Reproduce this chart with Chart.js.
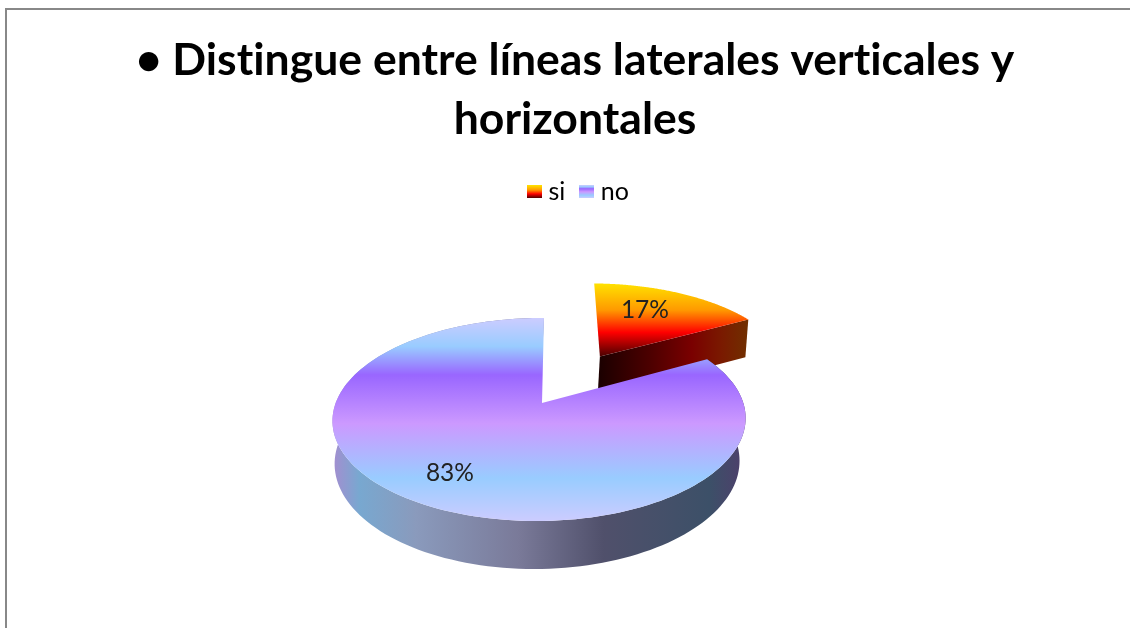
<!DOCTYPE html>
<html>
<head>
<meta charset="utf-8">
<script src="https://cdn.jsdelivr.net/npm/chart.js@4"></script>
<style>
  html, body { margin: 0; padding: 0; background: #fff; overflow: hidden; }
  #frame { position: absolute; left: 5px; top: 8px; width: 2000px; height: 2000px; border: 2px solid #888; }
  #chart { position: absolute; left: 0; top: 0; }
</style>
</head>
<body>
<div id="frame"></div>
<canvas id="chart" width="1130" height="628"></canvas>
<script>
const titleLines = ['• Distingue entre líneas laterales verticales y', 'horizontales'];
const categories = ['si', 'no'];
const values = [17, 83];

// how far each slice is pulled out, as a fraction of the radius
const explode = [0.595, 0];
// label spot inside each slice: fraction of radius, degrees clockwise from top
const labelSpot = [[0.675, 25], [0.747, 212]];

// perspective of the tilted pie
const top3d = { x: 542, y: 403, a: 203.8, b: 98.8 };
const bottom3d = { x: 541, y: 445, b: 103.8 };
const bottomWidth = [0.995, 0.98];
const tilt = 0.1626;
const sideTilt = -0.0123;
const shear = -0.0235;

const faceStops = [
  [[0, '#ffe600'], [0.38, '#ff9900'], [0.68, '#ff0000'], [1, '#4d0000']],
  [[0, '#ccccff'], [0.14, '#99ccff'], [0.28, '#9966ff'], [0.52, '#cc99ff'], [0.79, '#99ccff'], [1, '#ccccff']]
];
const wallStops = [
  [[0, '#1a0000'], [0.35, '#4d0000'], [0.62, '#7a0000'], [0.82, '#7a1a00'], [1, '#703000']],
  [[0, '#a090d0'], [0.06, '#78a8d0'], [0.2, '#8a9abc'], [0.45, '#7a7a99'], [0.66, '#50506b'], [0.92, '#3c5068'], [1, '#4d406b']]
];
const faceBox = [[282, 356], [318, 521]];
const wallBox = [[598, 749], [335, 742]];

function makeGrad(ctx, x0, y0, x1, y1, stops) {
  const g = ctx.createLinearGradient(x0, y0, x1, y1);
  stops.forEach(s => g.addColorStop(s[0], s[1]));
  return g;
}

function project(u, v, i, lower) {
  const w = 1 - tilt * v - sideTilt * u;
  const y = lower ? bottom3d.y + bottom3d.b * v / w : top3d.y + top3d.b * v / w;
  const a = lower ? top3d.a * bottomWidth[i] : top3d.a;
  const x0 = lower ? bottom3d.x : top3d.x;
  return [x0 + a * u / w + shear * (y - top3d.y), y];
}

function rim(arc, i, lower, reverse) {
  const pts = [];
  const mid = (arc.startAngle + arc.endAngle) / 2;
  const ox = explode[i] * Math.cos(mid), oy = explode[i] * Math.sin(mid);
  const steps = 160;
  for (let s = 0; s <= steps; s++) {
    const t = arc.startAngle + (arc.endAngle - arc.startAngle) * s / steps;
    pts.push(project(ox + Math.cos(t), oy + Math.sin(t), i, lower));
  }
  return { pts: reverse ? pts.reverse() : pts, apex: project(ox, oy, i, lower) };
}

function fillPoly(ctx, pts, style) {
  ctx.beginPath();
  pts.forEach((p, n) => n ? ctx.lineTo(p[0], p[1]) : ctx.moveTo(p[0], p[1]));
  ctx.closePath();
  ctx.fillStyle = style;
  ctx.fill();
}

// paints the slices the library computed, tilted, with a side wall
const pie3d = {
  id: 'pie3d',
  afterLayout(chart) {
    // legend row sits a little right of the title centre
    chart.legend.left += 12;
  },
  beforeDraw(chart) {
    // a tiny spacing stops Lato joining "ti" into a ligature
    chart.ctx.letterSpacing = '0.01px';
  },
  beforeDatasetDraw(chart, args) {
    const ctx = chart.ctx;
    const arcs = chart.getDatasetMeta(args.index).data;
    ctx.save();
    arcs.forEach((arc, i) => {
      const up = rim(arc, i, false, false);
      const down = rim(arc, i, true, true);
      const wall = makeGrad(ctx, wallBox[i][0], 0, wallBox[i][1], 0, wallStops[i]);
      if (explode[i] > 0) {
        // only the cut side faces the viewer on the pulled out slice
        fillPoly(ctx, [up.apex, up.pts[up.pts.length - 1], down.pts[0], down.apex], wall);
      } else {
        fillPoly(ctx, up.pts.concat(down.pts), wall);
      }
      const face = makeGrad(ctx, 0, faceBox[i][0], 0, faceBox[i][1], faceStops[i]);
      fillPoly(ctx, [up.apex].concat(up.pts), face);
    });
    // percent labels
    const total = values.reduce((a, b) => a + b, 0);
    ctx.font = '24.5px Lato';
    ctx.fillStyle = '#222';
    ctx.textAlign = 'center';
    ctx.textBaseline = 'middle';
    arcs.forEach((arc, i) => {
      const mid = (arc.startAngle + arc.endAngle) / 2;
      const ang = (labelSpot[i][1] - 90) * Math.PI / 180;
      const p = project(
        explode[i] * Math.cos(mid) + labelSpot[i][0] * Math.cos(ang),
        explode[i] * Math.sin(mid) + labelSpot[i][0] * Math.sin(ang), i, false);
      ctx.fillText(Math.round(values[i] / total * 100) + '%', p[0], p[1]);
    });
    ctx.restore();
    return false;
  }
};

// legend swatch with the slice gradient
function swatch(i) {
  const c = document.createElement('canvas');
  c.width = 15;
  c.height = 13;
  const x = c.getContext('2d');
  x.fillStyle = makeGrad(x, 0, 0, 0, 13, faceStops[i]);
  x.fillRect(0, 0, 15, 13);
  return c;
}

const canvas = document.getElementById('chart');

new Chart(canvas, {
  type: 'pie',
  data: {
    labels: categories,
    datasets: [{ data: values, backgroundColor: ['#ff9900', '#9966ff'], borderWidth: 0 }]
  },
  plugins: [pie3d],
  options: {
    responsive: false,
    animation: false,
    layout: { padding: { left: 20, top: 0 } },
    plugins: {
      tooltip: { enabled: false },
      title: {
        display: true,
        text: titleLines,
        color: '#000',
        font: { family: 'Lato', weight: 'bold', size: 44.5, lineHeight: 1.326 },
        padding: { top: 31, bottom: 10 }
      },
      legend: {
        position: 'top',
        labels: {
          color: '#222',
          font: { family: 'Lato', size: 25 },
          usePointStyle: true,
          pointStyleWidth: 3,
          padding: 20,
          generateLabels() {
            return categories.map((c, i) => ({
              text: c,
              pointStyle: swatch(i),
              fillStyle: faceStops[i][1][1],
              lineWidth: 0,
              strokeStyle: 'transparent',
              index: i
            }));
          }
        }
      }
    }
  }
});
</script>
</body>
</html>
